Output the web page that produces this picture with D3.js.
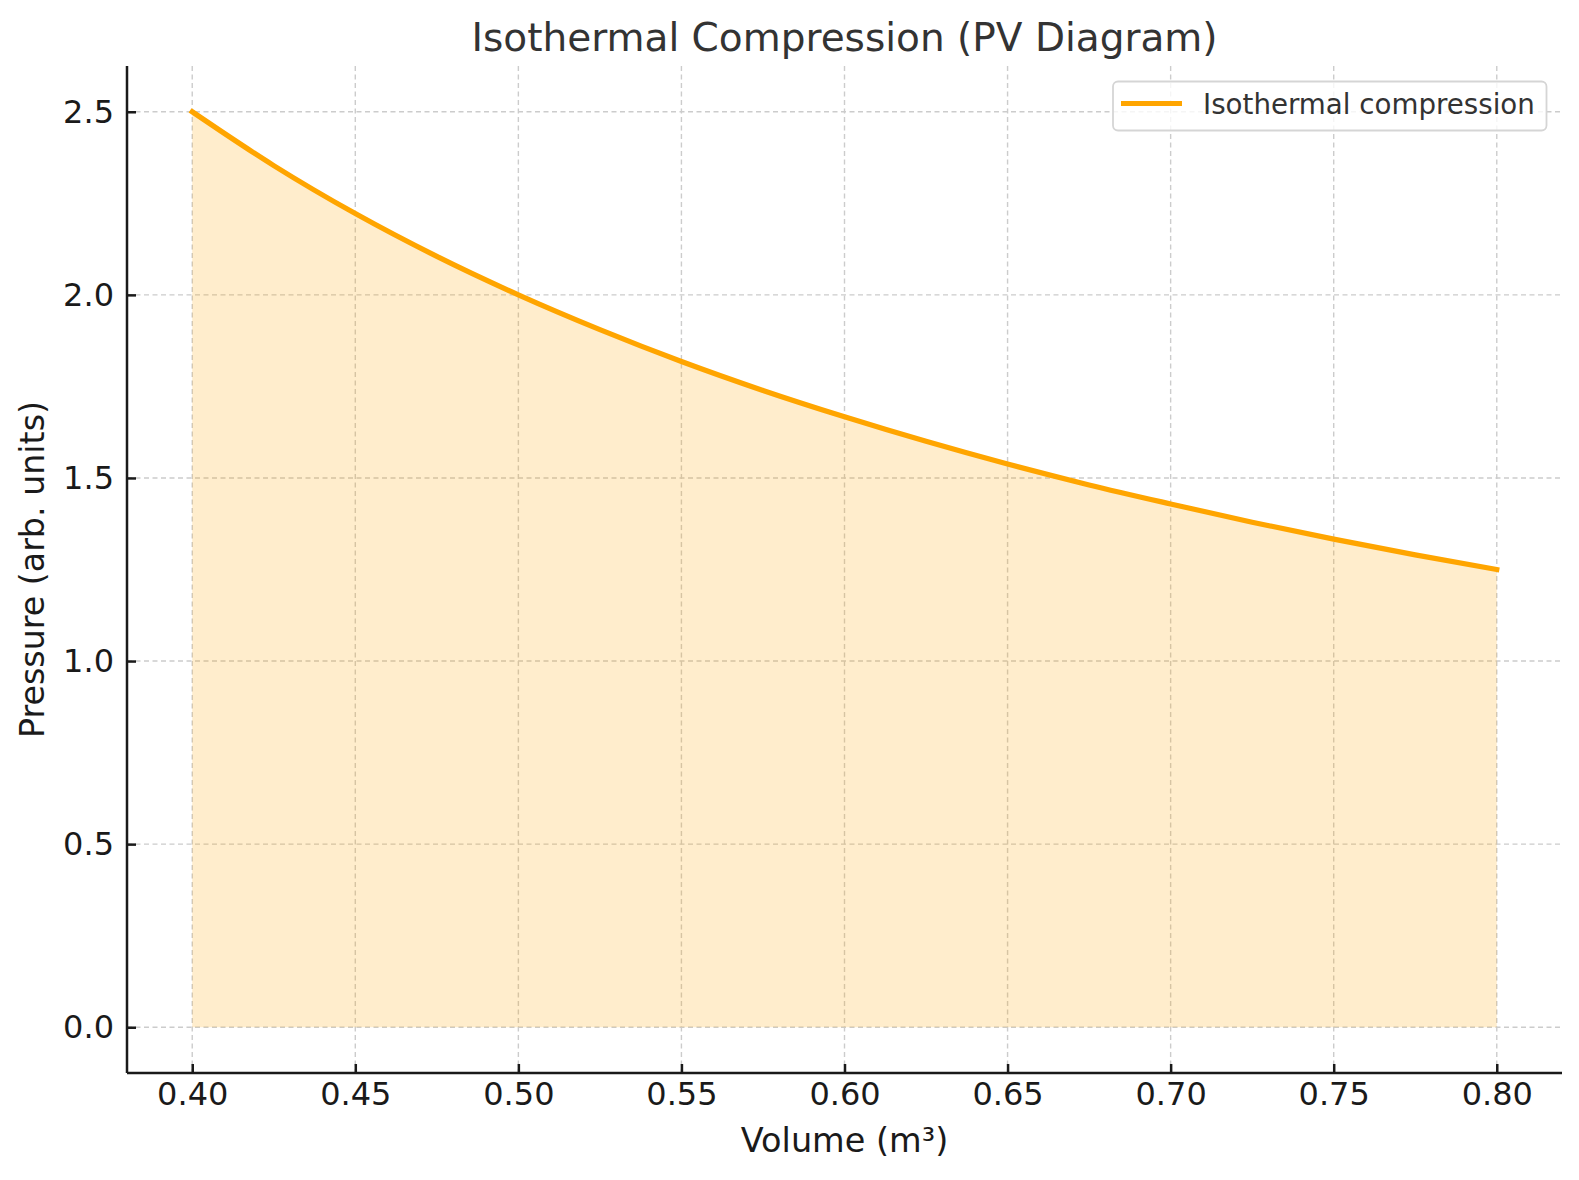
<!DOCTYPE html>
<html>
<head>
<meta charset="utf-8">
<script src="https://cdn.jsdelivr.net/npm/d3@7"></script>
<style>
  html, body { margin: 0; padding: 0; background: #ffffff; }
  svg { display: block; }
  text { font-family: "DejaVu Sans", sans-serif; }
</style>
</head>
<body>
<svg id="chart" width="1579" height="1180"></svg>
<script>
// ---- Data ----
const volume = [0.400, 0.425, 0.450, 0.475, 0.500, 0.525, 0.550, 0.575, 0.600,
                0.625, 0.650, 0.675, 0.700, 0.725, 0.750, 0.775, 0.800];
const pressure = [2.500, 2.353, 2.222, 2.105, 2.000, 1.905, 1.818, 1.739, 1.667,
                  1.600, 1.538, 1.481, 1.429, 1.379, 1.333, 1.290, 1.250];
const xTicks = [0.40, 0.45, 0.50, 0.55, 0.60, 0.65, 0.70, 0.75, 0.80];
const yTicks = [0.0, 0.5, 1.0, 1.5, 2.0, 2.5];
const seriesName = "Isothermal compression";
const titleText = "Isothermal Compression (PV Diagram)";
const xLabel = "Volume (m³)";
const yLabel = "Pressure (arb. units)";

// ---- Layout ----
const plot = { left: 127, right: 1562, top: 66, bottom: 1073 };
const svg = d3.select("#chart");

const x = d3.scaleLinear().domain([0.38, 0.82]).range([plot.left, plot.right]);
const y = d3.scaleLinear().domain([-0.125, 2.625]).range([plot.bottom, plot.top]);

const data = volume.map((v, i) => ({ v, p: pressure[i] }));

// Grid
const grid = svg.append("g");
grid.selectAll("line.vx").data(xTicks).join("line")
  .attr("x1", d => x(d)).attr("x2", d => x(d))
  .attr("y1", plot.top).attr("y2", plot.bottom)
  .attr("stroke", "#cccccc").attr("stroke-width", 1.4)
  .attr("stroke-dasharray", "5,3.5");
grid.selectAll("line.hy").data(yTicks).join("line")
  .attr("x1", plot.left).attr("x2", plot.right)
  .attr("y1", d => y(d)).attr("y2", d => y(d))
  .attr("stroke", "#cccccc").attr("stroke-width", 1.4)
  .attr("stroke-dasharray", "5,3.5");

// Area fill
const area = d3.area()
  .x(d => x(d.v)).y0(y(0)).y1(d => y(d.p))
  .curve(d3.curveMonotoneX);
svg.append("path").datum(data)
  .attr("d", area)
  .attr("fill", "#ffa500").attr("fill-opacity", 0.2);

// Line
const line = d3.line().x(d => x(d.v)).y(d => y(d.p)).curve(d3.curveMonotoneX);
svg.append("path").datum(data)
  .attr("d", line)
  .attr("fill", "none").attr("stroke", "#ffa500")
  .attr("stroke-width", 5.2).attr("stroke-linecap", "square");

// Axes
const xAxis = d3.axisBottom(x).tickValues(xTicks).tickFormat(d3.format(".2f"))
  .tickSizeInner(-9).tickSizeOuter(0).tickPadding(9);
const gx = svg.append("g").attr("transform", `translate(0,${plot.bottom})`).call(xAxis);
const yAxis = d3.axisLeft(y).tickValues(yTicks).tickFormat(d3.format(".1f"))
  .tickSizeInner(-9).tickSizeOuter(0).tickPadding(13);
const gy = svg.append("g").attr("transform", `translate(${plot.left},0)`).call(yAxis);

[gx, gy].forEach(g => {
  g.select(".domain").attr("stroke", "#1a1a1a").attr("stroke-width", 2.5);
  g.selectAll(".tick line").attr("stroke", "#1a1a1a").attr("stroke-width", 2.5);
  g.selectAll(".tick text").attr("fill", "#1a1a1a")
    .style("font-family", "'DejaVu Sans', sans-serif").style("font-size", "32px");
});
gy.select(".domain").attr("d", `M0,${plot.top}V${plot.bottom}`);
gx.select(".domain").attr("d", `M${plot.left},0H${plot.right}`);

// Title and labels
svg.append("text").attr("x", (plot.left + plot.right) / 2).attr("y", 51)
  .attr("text-anchor", "middle").attr("fill", "#333333")
  .style("font-size", "39px").text(titleText);
svg.append("text").attr("x", (plot.left + plot.right) / 2).attr("y", 1152)
  .attr("text-anchor", "middle").attr("fill", "#1a1a1a")
  .style("font-size", "33.5px").text(xLabel);
svg.append("text")
  .attr("transform", `translate(44,${(plot.top + plot.bottom) / 2}) rotate(-90)`)
  .attr("text-anchor", "middle").attr("fill", "#1a1a1a")
  .style("font-size", "33.3px").text(yLabel);

// Legend
const lg = svg.append("g");
lg.append("rect").attr("x", 1113).attr("y", 81.5).attr("width", 433.5).attr("height", 49)
  .attr("rx", 5).attr("fill", "#ffffff").attr("fill-opacity", 0.8)
  .attr("stroke", "#d5d5d5").attr("stroke-width", 1.8);
lg.append("line").attr("x1", 1121).attr("x2", 1182).attr("y1", 103.5).attr("y2", 103.5)
  .attr("stroke", "#ffa500").attr("stroke-width", 5);
lg.append("text").attr("x", 1203).attr("y", 113.5).attr("fill", "#333333")
  .style("font-size", "27.7px").text(seriesName);
</script>
</body>
</html>
